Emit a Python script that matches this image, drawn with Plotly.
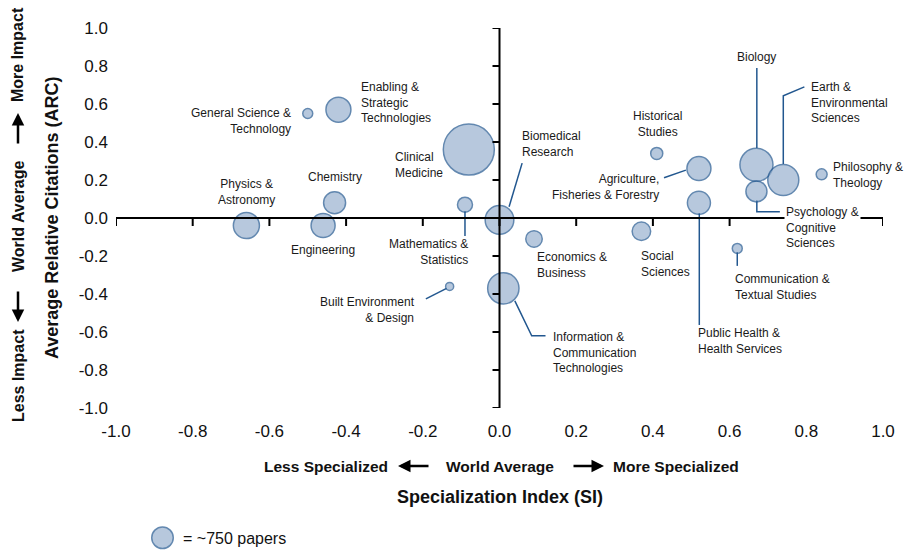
import plotly.graph_objects as go

# ---- data: field of research, specialization index, relative citations, paper counts
fields = [
    "General Science & Technology", "Enabling & Strategic Technologies", "Clinical Medicine",
    "Chemistry", "Physics & Astronomy", "Engineering", "Mathematics & Statistics",
    "Biomedical Research", "Economics & Business", "Built Environment & Design",
    "Information & Communication Technologies", "Historical Studies",
    "Agriculture, Fisheries & Forestry", "Public Health & Health Services", "Social Sciences",
    "Biology", "Earth & Environmental Sciences", "Psychology & Cognitive Sciences",
    "Philosophy & Theology", "Communication & Textual Studies",
]
si = [-0.50, -0.42, -0.08, -0.43, -0.66, -0.46, -0.09, 0.00, 0.09, -0.13,
      0.01, 0.41, 0.52, 0.52, 0.37, 0.67, 0.74, 0.67, 0.84, 0.62]
arc = [0.55, 0.57, 0.36, 0.08, -0.04, -0.04, 0.07, -0.01, -0.11, -0.36,
       -0.37, 0.34, 0.26, 0.08, -0.07, 0.28, 0.20, 0.14, 0.23, -0.16]
papers = [160, 1010, 4220, 785, 1100, 935, 365, 1330, 440, 105,
          1590, 235, 935, 860, 555, 1770, 1560, 715, 195, 160]

legend_papers = [750]
legend_text = "= ~750 papers"

tick_vals = [-1.0, -0.8, -0.6, -0.4, -0.2, 0.0, 0.2, 0.4, 0.6, 0.8, 1.0]
tick_text = ["-1.0", "-0.8", "-0.6", "-0.4", "-0.2", "0.0", "0.2", "0.4", "0.6", "0.8", "1.0"]

# ---- styling
W, H = 909, 551
FILL = "#9ab2cf"
EDGE = "#22578f"
FONT = "Liberation Sans, Arial, sans-serif"
SIZEREF = 2.0 * 750 / 21.5 ** 2


def px(x):
    """horizontal pixel -> paper fraction"""
    return x / W


def py(y):
    """vertical pixel (from top) -> paper fraction"""
    return (H - y) / H


fig = go.Figure()

# bubbles
fig.add_trace(go.Scatter(
    x=si, y=arc, mode="markers", text=fields, hoverinfo="text",
    marker=dict(size=papers, sizemode="area", sizeref=SIZEREF,
                color=FILL, line=dict(color=EDGE, width=1.5)),
    showlegend=False,
))

# size key bubble on its own small subplot below the chart
fig.add_trace(go.Scatter(
    x=[0], y=[0], mode="markers", cliponaxis=False, hoverinfo="skip",
    xaxis="x2", yaxis="y2",
    marker=dict(size=legend_papers, sizemode="area", sizeref=SIZEREF,
                color=FILL, line=dict(color=EDGE, width=1.5)),
    showlegend=False,
))

shapes = []

# leader lines from bubbles to their labels
leaders = [
    [(-0.090, 0.037), (-0.090, -0.095)],                    # Mathematics & Statistics
    [(0.025, 0.059), (0.059, 0.289)],                       # Biomedical Research
    [(0.429, 0.212), (0.486, 0.252)],                       # Agriculture
    [(0.521, 0.026), (0.521, -0.563)],                      # Public Health
    [(0.671, 0.789), (0.671, 0.368)],                       # Biology
    [(0.740, 0.284), (0.740, 0.643), (0.795, 0.690)],       # Earth & Environmental
    [(0.671, 0.095), (0.671, 0.033), (0.731, 0.033)],       # Psychology
    [(0.620, -0.179), (0.620, -0.252)],                     # Communication
    [(-0.138, -0.370), (-0.192, -0.426)],                   # Built Environment
    [(0.040, -0.436), (0.084, -0.620), (0.120, -0.620)],    # ICT
]
for pts in leaders:
    path = "M " + " L ".join(f"{a},{b}" for a, b in pts)
    shapes.append(dict(type="path", path=path, xref="x", yref="y", layer="below",
                       line=dict(color=EDGE, width=1.5)))

# crossing axes through the origin
AX = dict(color="black", width=2)
shapes.append(dict(type="line", xref="x", yref="y", x0=-1, x1=1, y0=0, y1=0,
                   layer="above", line=AX))
shapes.append(dict(type="line", xref="x", yref="y", x0=0, x1=0, y0=-1, y1=1,
                   layer="above", line=AX))
for v in tick_vals:
    # downward ticks on the horizontal axis
    shapes.append(dict(type="line", xref="x", yref="y", ysizemode="pixel", yanchor=0,
                       x0=v, x1=v, y0=0, y1=-8, layer="above", line=AX))
    # leftward ticks on the vertical axis
    shapes.append(dict(type="line", xref="x", yref="y", xsizemode="pixel", xanchor=0,
                       x0=0, x1=-7, y0=v, y1=v, layer="above", line=AX))

# field labels: (text, x, y, xanchor, align)
labels = [
    ("General Science &<br>Technology", -0.538, 0.508, "right", "right"),
    ("Enabling &<br>Strategic<br>Technologies", -0.366, 0.610, "left", "left"),
    ("Clinical<br>Medicine", -0.278, 0.281, "left", "left"),
    ("Physics &<br>Astronomy", -0.661, 0.138, "center", "center"),
    ("Chemistry", -0.429, 0.217, "center", "center"),
    ("Engineering", -0.460, -0.168, "center", "center"),
    ("Mathematics &<br>Statistics", -0.077, -0.179, "right", "right"),
    ("Built Environment<br>& Design", -0.215, -0.482, "right", "right"),
    ("Biomedical<br>Research", 0.053, 0.389, "left", "left"),
    ("Economics &<br>Business", 0.093, -0.246, "left", "left"),
    ("Information &<br>Communication<br>Technologies", 0.134, -0.706, "left", "left"),
    ("Historical<br>Studies", 0.411, 0.494, "center", "center"),
    ("Agriculture,<br>Fisheries & Forestry", 0.421, 0.165, "right", "right"),
    ("Social<br>Sciences", 0.364, -0.242, "left", "left"),
    ("Public Health &<br>Health Services", 0.512, -0.647, "left", "left"),
    ("Biology", 0.671, 0.845, "center", "center"),
    ("Earth &<br>Environmental<br>Sciences", 0.808, 0.610, "left", "left"),
    ("Philosophy &<br>Theology", 0.865, 0.228, "left", "left"),
    ("Psychology &<br>Cognitive<br>Sciences", 0.742, -0.050, "left", "left"),
    ("Communication &<br>Textual Studies", 0.609, -0.363, "left", "left"),
]
annotations = []
for text, x, y, xa, al in labels:
    ann = dict(text=text, x=x, y=y, xref="x", yref="y", xanchor=xa, yanchor="middle",
               align=al, showarrow=False, font=dict(family=FONT, size=12, color="#1a1a1a"))
    if text.startswith("Psychology"):
        ann["bgcolor"] = "white"
    annotations.append(ann)

KEY_H = dict(family=FONT, size=15.5, color="#111111", weight="bold")
KEY_V = dict(family=FONT, size=16, color="#111111", weight="bold")
TITLE = dict(family=FONT, size=18, color="#111111", weight="bold")
ARROW = dict(text="", xref="paper", yref="paper", showarrow=True, arrowhead=2,
             arrowsize=1, arrowwidth=2.5, arrowcolor="black")

# horizontal direction key and title
RY = py(466)
annotations += [
    dict(text="Less Specialized", x=px(390), y=RY, xref="paper", yref="paper",
         xanchor="right", yanchor="middle", showarrow=False, font=KEY_H),
    dict(text="World Average", x=px(499.5), y=RY, xref="paper", yref="paper",
         xanchor="center", yanchor="middle", showarrow=False, font=KEY_H),
    dict(text="More Specialized", x=px(611), y=RY, xref="paper", yref="paper",
         xanchor="left", yanchor="middle", showarrow=False, font=KEY_H),
    dict(ARROW, x=px(398), y=RY, ax=32, ay=0),
    dict(ARROW, x=px(604), y=RY, ax=-32, ay=0),
    dict(text="Specialization Index (SI)", x=px(499.5), y=py(497), xref="paper", yref="paper",
         xanchor="center", yanchor="middle", showarrow=False, font=TITLE),
]

# vertical direction key and title
LX = px(18)
annotations += [
    dict(text="More Impact", x=LX, y=py(55), xref="paper", yref="paper", textangle=-90,
         xanchor="center", yanchor="middle", showarrow=False, font=KEY_V),
    dict(text="World Average", x=LX, y=py(216), xref="paper", yref="paper", textangle=-90,
         xanchor="center", yanchor="middle", showarrow=False, font=KEY_V),
    dict(text="Less Impact", x=LX, y=py(376), xref="paper", yref="paper", textangle=-90,
         xanchor="center", yanchor="middle", showarrow=False, font=KEY_V),
    dict(ARROW, x=LX, y=py(113), ax=0, ay=32),
    dict(ARROW, x=LX, y=py(322), ax=0, ay=-32),
    dict(text="Average Relative Citations (ARC)", x=px(52), y=py(218), xref="paper",
         yref="paper", textangle=-90, xanchor="center", yanchor="middle",
         showarrow=False, font=TITLE),
]

# size key caption
annotations.append(dict(text=legend_text, x=px(181), y=py(538), xref="paper", yref="paper",
                        xanchor="left", yanchor="middle", showarrow=False,
                        font=dict(family=FONT, size=16, color="#111111")))

AXIS = dict(range=[-1, 1], showgrid=False, zeroline=False, showline=False, ticks="",
            tickmode="array", tickvals=tick_vals, ticktext=tick_text, automargin=False,
            tickfont=dict(family=FONT, size=17, color="#111111"), fixedrange=True)
KEYAXIS = dict(range=[-1, 1], visible=False, fixedrange=True, automargin=False)

fig.update_layout(
    width=W, height=H, autosize=False,
    margin=dict(l=0, r=0, t=0, b=0, autoexpand=False),
    paper_bgcolor="white", plot_bgcolor="rgba(0,0,0,0)",
    xaxis=dict(AXIS, domain=[px(116), px(883)], ticklabelstandoff=11),
    yaxis=dict(AXIS, domain=[py(408), py(28)], ticklabelstandoff=7),
    xaxis2=dict(KEYAXIS, domain=[px(152), px(173)], anchor="y2"),
    yaxis2=dict(KEYAXIS, domain=[py(548), py(527.5)], anchor="x2"),
    shapes=shapes, annotations=annotations, showlegend=False,
)

fig.write_html("out.html")
